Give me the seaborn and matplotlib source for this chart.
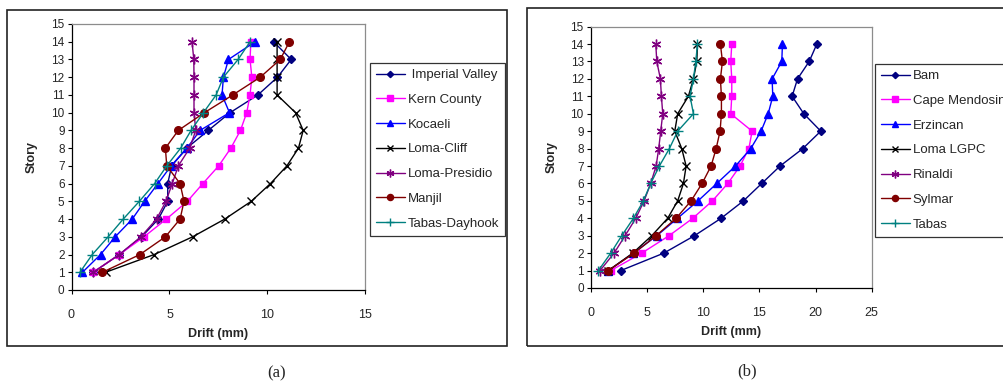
import matplotlib
matplotlib.use("Agg")
import matplotlib.pyplot as plt
from matplotlib.patches import Rectangle
import seaborn as sns
import pandas as pd

sns.set_style("white")
plt.rcParams["font.family"] = ["Liberation Sans", "DejaVu Sans"]

stories = list(range(1, 15))

# (a) inter-story drift profiles, mm, story 1..14
imperial_valley = [1.11, 2.44, 3.58, 4.43, 4.91, 4.91, 5.11, 5.88, 6.98, 8.09, 9.51, 10.51, 11.21, 10.31]
kern_county = [1.11, 2.44, 3.70, 4.84, 5.91, 6.70, 7.51, 8.13, 8.62, 8.94, 9.11, 9.20, 9.11, 9.15]
kocaeli = [0.56, 1.48, 2.23, 3.10, 3.73, 4.41, 5.08, 5.89, 6.56, 8.06, 7.68, 7.75, 8.01, 9.37]
loma_cliff = [1.74, 4.22, 6.18, 7.82, 9.17, 10.15, 10.99, 11.58, 11.82, 11.43, 10.49, 10.49, 10.49, 10.49]
loma_presidio = [1.11, 2.44, 3.54, 4.34, 4.82, 5.14, 5.45, 6.03, 6.34, 6.25, 6.25, 6.25, 6.24, 6.15]
manjil = [1.58, 3.49, 4.79, 5.54, 5.74, 5.54, 4.86, 4.79, 5.45, 6.78, 8.23, 9.63, 10.65, 11.12]
tabas_dayhook = [0.43, 1.06, 1.87, 2.64, 3.46, 4.24, 4.86, 5.57, 6.10, 6.73, 7.38, 7.75, 8.50, 9.11]

# (b) inter-story drift profiles, mm, story 1..14
bam = [2.67, 6.50, 9.23, 11.60, 13.59, 15.22, 16.85, 18.87, 20.47, 18.96, 17.92, 18.40, 19.44, 20.12]
cape_mendosino = [1.78, 4.54, 6.97, 9.08, 10.83, 12.20, 13.29, 14.07, 14.36, 12.46, 12.55, 12.55, 12.46, 12.55]
erzincan = [1.57, 3.80, 5.88, 7.72, 9.55, 11.22, 12.88, 14.24, 15.16, 15.79, 16.20, 16.14, 17.00, 17.06]
loma_lgpc = [1.57, 3.74, 5.43, 6.85, 7.74, 8.25, 8.49, 8.10, 7.48, 7.74, 8.69, 9.14, 9.44, 9.50]
rinaldi = [0.83, 2.08, 3.06, 4.01, 4.75, 5.34, 5.82, 6.05, 6.23, 6.41, 6.29, 6.20, 5.88, 5.79]
sylmar = [1.57, 3.86, 5.82, 7.60, 8.93, 9.91, 10.71, 11.16, 11.51, 11.63, 11.63, 11.54, 11.72, 11.54]
tabas = [0.68, 1.78, 2.76, 3.80, 4.69, 5.34, 6.11, 7.00, 7.74, 9.14, 8.84, 9.14, 9.35, 9.50]

labels_a = [" Imperial Valley", "Kern County", "Kocaeli", "Loma-Cliff",
            "Loma-Presidio", "Manjil", "Tabas-Dayhook"]
series_a = [imperial_valley, kern_county, kocaeli, loma_cliff,
            loma_presidio, manjil, tabas_dayhook]
labels_b = ["Bam", "Cape Mendosino", "Erzincan", "Loma LGPC",
            "Rinaldi", "Sylmar", "Tabas"]
series_b = [bam, cape_mendosino, erzincan, loma_lgpc, rinaldi, sylmar, tabas]

colors = ["#000080", "#FF00FF", "#0000FF", "#000000", "#800080", "#800000", "#008080"]
markers = ["D", "s", "^", "x", (6, 2, 0), "o", "+"]
msizes = [4.0, 5.0, 6.0, 6.0, 7.0, 5.5, 7.0]

W, H = 1004, 382
fig = plt.figure(figsize=(W / 100, H / 100), dpi=100)
fig.patch.set_facecolor("white")


def px_axes(x0, y0, x1, y1):
    return fig.add_axes([x0 / W, 1 - y1 / H, (x1 - x0) / W, (y1 - y0) / H])


def draw_panel(ax, labels, series, xmax, legend_xy):
    for lab, vals, c, m, ms in zip(labels, series, colors, markers, msizes):
        df = pd.DataFrame({"Drift": vals, "Story": stories})
        sns.lineplot(data=df, x="Drift", y="Story", orient="y", sort=False,
                     estimator=None, color=c, marker=m, markersize=ms,
                     markeredgewidth=1.0, markeredgecolor=c, linewidth=1.0,
                     label=lab, ax=ax)
    ax.set_xlim(0, xmax)
    ax.set_ylim(0, 15)
    ax.set_xticks(range(0, xmax + 1, 5))
    ax.set_yticks(range(0, 16))
    ax.tick_params(axis="x", direction="out", length=3, width=0.8,
                   labelsize=9, pad=10.5, bottom=True, color="black")
    ax.tick_params(axis="y", direction="out", length=3, width=0.8,
                   labelsize=8.5, pad=2, left=True, color="black")
    for s in ("left", "bottom"):
        ax.spines[s].set_color("black")
        ax.spines[s].set_linewidth(0.9)
    for s in ("top", "right"):
        ax.spines[s].set_color("#8c8c8c")
        ax.spines[s].set_linewidth(0.9)
    ax.set_xlabel("Drift (mm)", fontsize=9, fontweight="bold", labelpad=5)
    ax.set_ylabel("Story", fontsize=9, fontweight="bold", labelpad=9.5)
    leg = ax.legend(loc="upper left", bbox_to_anchor=(legend_xy[0] / W, 1 - legend_xy[1] / H),
                    bbox_transform=fig.transFigure, borderaxespad=0,
                    fontsize=9.5, frameon=True, fancybox=False, edgecolor="black",
                    handlelength=2.2, handletextpad=0.2, labelspacing=0.95,
                    borderpad=0.45, markerscale=0.8)
    leg.get_frame().set_linewidth(0.9)


ax_a = px_axes(71.5, 24, 365.5, 290)
draw_panel(ax_a, labels_a, series_a, 15, (370, 63))

ax_b = px_axes(590.7, 26.6, 871.7, 288)
draw_panel(ax_b, labels_b, series_b, 25, (875, 64))

# panel frames and captions
for x0, y0, x1, y1 in [(7, 10, 507, 346), (527, 8, 1012, 346)]:
    fig.patches.append(Rectangle((x0 / W, 1 - y1 / H), (x1 - x0) / W, (y1 - y0) / H,
                                 transform=fig.transFigure, fill=False,
                                 edgecolor="#222222", linewidth=1.2))
fig.text(277 / W, 1 - 373 / H, "(a)", ha="center", va="center",
         fontsize=12, family=["Liberation Serif", "DejaVu Serif"])
fig.text(747 / W, 1 - 371 / H, "(b)", ha="center", va="center",
         fontsize=12, family=["Liberation Serif", "DejaVu Serif"])

fig.savefig("out.png", dpi=100)
